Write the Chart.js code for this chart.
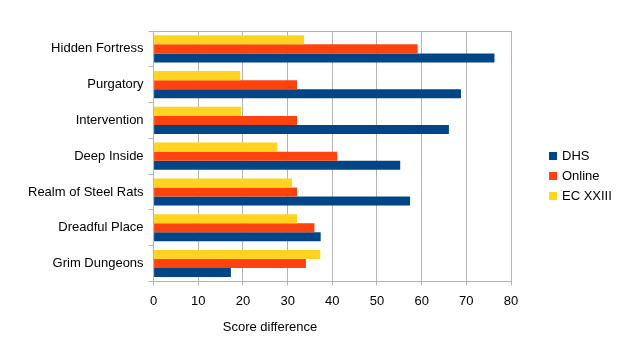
<!DOCTYPE html>
<html>
<head>
<meta charset="utf-8">
<script src="https://cdn.jsdelivr.net/npm/chart.js@4"></script>
<style>
  html, body { margin: 0; padding: 0; background: #fff; }
  #wrap { position: relative; width: 618px; height: 352px;
          font-family: 'Liberation Sans', Arial, sans-serif; font-size: 13px; color: #000; }
  #legend { position: absolute; left: 549px; top: 146px; margin: 0; padding: 0; list-style: none; }
  #legend li { height: 20px; line-height: 20px; white-space: nowrap; }
  #legend span.box { display: inline-block; width: 8px; height: 8px; margin-right: 5px; vertical-align: -0px; }
  #xtitle { position: absolute; left: 170px; width: 200px; top: 318px; text-align: center; line-height: 18px; }
</style>
</head>
<body>
<div id="wrap">
  <canvas id="chartBars" width="618" height="352"></canvas>
  <ul id="legend"></ul>
  <div id="xtitle"></div>
</div>
<script>
"use strict";

var categories = ['Hidden Fortress', 'Purgatory', 'Intervention', 'Deep Inside',
                  'Realm of Steel Rats', 'Dreadful Place', 'Grim Dungeons'];
var dhs     = [76.3, 68.8, 66.1, 55.2, 57.4, 37.4, 17.3];
var online  = [59.1, 32.1, 32.1, 41.1, 32.1, 36.0, 34.1];
var ecXXIII = [33.7, 19.4, 19.6, 27.7, 31.0, 32.1, 37.3];
var xTitle  = 'Score difference';

var FONT = "'Liberation Sans', Arial, sans-serif";
var GRID = '#b3b3b3';

/* linea superior del marco */
var frameTop = {
  id: 'frameTop',
  afterDraw: function (chart) {
    var a = chart.chartArea, ctx = chart.ctx;
    ctx.save();
    ctx.strokeStyle = GRID;
    ctx.lineWidth = 1;
    ctx.beginPath();
    ctx.moveTo(a.left, Math.round(a.top) + 0.5);
    ctx.lineTo(a.right, Math.round(a.top) + 0.5);
    ctx.stroke();
    ctx.restore();
  }
};

var chart = new Chart(document.getElementById('chartBars'), {
  type: 'bar',
  data: {
    labels: categories,
    datasets: [
      { label: 'EC XXIII', data: ecXXIII, backgroundColor: '#ffd320' },
      { label: 'Online',   data: online,  backgroundColor: '#ff420e' },
      { label: 'DHS',      data: dhs,     backgroundColor: '#004586' }
    ]
  },
  options: {
    indexAxis: 'y',
    responsive: false,
    animation: false,
    datasets: { bar: { categoryPercentage: 0.76, barPercentage: 1.0 } },
    layout: { padding: { left: 23, top: 31, bottom: 35, right: 107 } },
    scales: {
      x: {
        min: 0, max: 80,
        ticks: { stepSize: 10, color: '#000', font: { family: FONT, size: 13 }, padding: 8 },
        grid: { color: GRID, tickLength: 4, tickColor: GRID },
        border: { color: GRID }
      },
      y: {
        ticks: { color: '#000', font: { family: FONT, size: 13 }, padding: 5 },
        grid: { offset: true, drawOnChartArea: false, tickLength: 5, color: GRID },
        border: { color: GRID }
      }
    },
    plugins: {
      tooltip: { enabled: false },
      legend: { display: false }
    }
  },
  plugins: [frameTop]
});

/* leyenda en HTML, orden inverso (DHS arriba) */
var ul = document.getElementById('legend');
chart.data.datasets.slice().reverse().forEach(function (ds) {
  var li = document.createElement('li');
  var box = document.createElement('span');
  box.className = 'box';
  box.style.background = ds.backgroundColor;
  li.appendChild(box);
  li.appendChild(document.createTextNode(ds.label));
  ul.appendChild(li);
});
document.getElementById('xtitle').textContent = xTitle;
</script>
</body>
</html>
